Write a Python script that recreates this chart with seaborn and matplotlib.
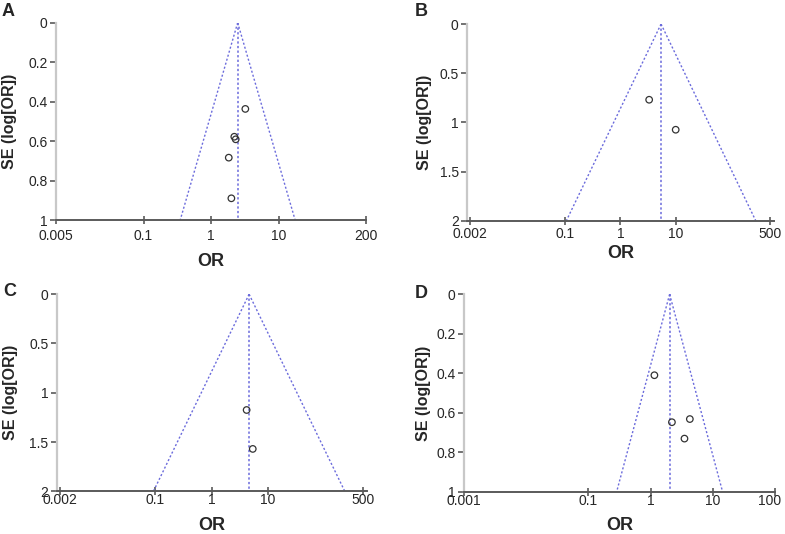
import numpy as np
import matplotlib
matplotlib.use('Agg')
import matplotlib.pyplot as plt
import matplotlib.transforms as mtransforms
import seaborn as sns
from matplotlib.ticker import FixedLocator, FixedFormatter, NullLocator

# study odds ratios and standard errors
or_a = [3.22, 2.21, 2.32, 1.83, 2.0]
se_a = [0.437, 0.578, 0.591, 0.684, 0.89]
or_b = [3.3, 9.9]
se_b = [0.77, 1.075]
or_c = [4.2, 5.4]
se_c = [1.175, 1.57]
or_d = [1.15, 2.2, 4.27, 3.5]
se_d = [0.41, 0.648, 0.632, 0.731]

# pooled odds ratio for each panel
pooled = [2.48, 5.4, 4.65, 2.02]

# axis ticks
xticks_a = [0.005, 0.1, 1, 10, 200]
xticks_b = [0.002, 0.1, 1, 10, 500]
xticks_c = [0.002, 0.1, 1, 10, 500]
xticks_d = [0.001, 0.1, 1, 10, 100]
yticks_a = [0, 0.2, 0.4, 0.6, 0.8, 1]
yticks_b = [0, 0.5, 1, 1.5, 2]
yticks_c = [0, 0.5, 1, 1.5, 2]
yticks_d = [0, 0.2, 0.4, 0.6, 0.8, 1]
xlims = [(0.005, 200), (0.00175, 580), (0.00175, 575), (0.001, 100)]
letters = ['A', 'B', 'C', 'D']

sns.set_style('white')
plt.rcParams['font.family'] = ['Liberation Sans', 'DejaVu Sans']

fig = plt.figure(figsize=(7.85, 5.34), dpi=100)
boxes = [[0.0710, 0.588, 0.3957, 0.3695],
         [0.5949, 0.5867, 0.3911, 0.3683],
         [0.0722, 0.0800, 0.3949, 0.3690],
         [0.5911, 0.0792, 0.3962, 0.3697]]

# label placement per panel (the original panels differ a bit)
xtick_pad = [3.5, 1.2, -2.0, -1.2]
xlab_y = [-0.208, -0.168, -0.172, -0.171]
ylab_x = [-0.150, -0.140, -0.150, -0.131]
letter_pos = [(0.002, 0.994), (0.528, 0.994), (0.004, 0.470), (0.528, 0.466)]

panels = [(or_a, se_a, xticks_a, yticks_a),
          (or_b, se_b, xticks_b, yticks_b),
          (or_c, se_c, xticks_c, yticks_c),
          (or_d, se_d, xticks_d, yticks_d)]

line_col = '#6b6bdc'
for i, (ors, ses, xt, yt) in enumerate(panels):
    ax = fig.add_axes(boxes[i])
    ymax = yt[-1]
    # funnel: pooled estimate +/- 1.96 SE on the log scale
    se_line = np.array([0, ymax])
    lo = np.exp(np.log(pooled[i]) - 1.96 * se_line)
    hi = np.exp(np.log(pooled[i]) + 1.96 * se_line)
    ax.plot(lo, se_line, color=line_col, linestyle=(0, (1.5, 1.5)), linewidth=1)
    ax.plot(hi, se_line, color=line_col, linestyle=(0, (1.5, 1.5)), linewidth=1)
    ax.plot([pooled[i], pooled[i]], [0, ymax], color=line_col,
            linestyle=(0, (1.5, 1.5)), linewidth=1.1)
    sns.scatterplot(x=ors, y=ses, ax=ax, marker='o', s=22, facecolor='none',
                    edgecolor='#333333', linewidth=0.9, zorder=3)
    ax.set_xscale('log')
    ax.set_xlim(xlims[i])
    ax.set_ylim(ymax, 0)
    ax.xaxis.set_major_locator(FixedLocator(xt))
    ax.xaxis.set_major_formatter(FixedFormatter([f'{v:g}' for v in xt]))
    ax.xaxis.set_minor_locator(NullLocator())
    ax.set_yticks(yt)
    ax.set_yticklabels([f'{v:g}' for v in yt])
    for s in ['top', 'right']:
        ax.spines[s].set_visible(False)
    ax.spines['left'].set_color('#c8c8c8')
    ax.spines['left'].set_linewidth(1.6)
    ax.spines['bottom'].set_color('#5a5a5a')
    ax.spines['bottom'].set_linewidth(1.4)
    ax.tick_params(axis='x', direction='inout', length=6, width=1.2,
                   color='#5a5a5a', labelsize=10, pad=xtick_pad[i], bottom=True)
    ax.tick_params(axis='y', direction='out', length=4, width=1.2,
                   color='#5a5a5a', labelsize=10, pad=2, left=True)
    ax.set_xlabel('OR', fontsize=13, fontweight='bold', va='center')
    ax.set_ylabel('SE (log[OR])', fontsize=11.5, fontweight='bold', va='center')
    ax.xaxis.set_label_coords(0.5, xlab_y[i])
    ax.yaxis.set_label_coords(ylab_x[i], 0.5)
    ax.grid(False)
    fig.text(letter_pos[i][0], letter_pos[i][1], letters[i], fontsize=13,
             fontweight='bold', va='top')
    if i == 3:
        # last label sits a little inside the figure edge, as in the original
        fig.canvas.draw()
        lab = ax.get_xticklabels()[-1]
        lab.set_transform(lab.get_transform() +
                          mtransforms.ScaledTranslation(-5 / 100, 0, fig.dpi_scale_trans))

plt.savefig('out.png', dpi=100)
